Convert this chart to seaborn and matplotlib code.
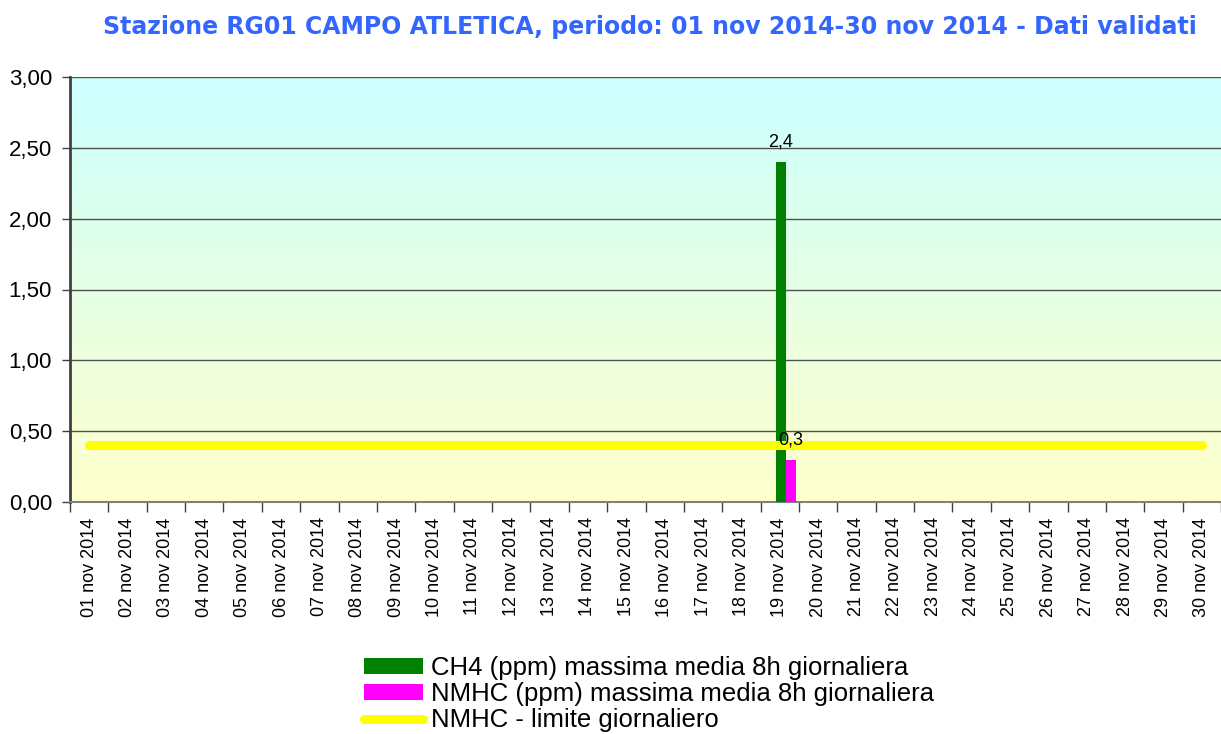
import numpy as np
import pandas as pd
import matplotlib
matplotlib.use("Agg")
import matplotlib.pyplot as plt
import seaborn as sns
from matplotlib.colors import LinearSegmentedColormap
from matplotlib.ticker import FuncFormatter, FixedLocator
from matplotlib.patches import Patch
from matplotlib.lines import Line2D

days = [f"{d:02d} nov 2014" for d in range(1, 31)]
ch4 = [np.nan] * 30
ch4[18] = 2.4
nmhc = [np.nan] * 30
nmhc[18] = 0.3
limit = [0.4] * 30

label_ch4 = "CH4 (ppm) massima media 8h giornaliera"
label_nmhc = "NMHC (ppm) massima media 8h giornaliera"
label_lim = "NMHC - limite giornaliero"
title = "Stazione RG01 CAMPO ATLETICA, periodo: 01 nov 2014-30 nov 2014 - Dati validati"

sns.set_theme(style="white")
plt.rcParams['font.family'] = ['Liberation Sans', 'DejaVu Sans']
plt.rcParams['text.color'] = 'black'
plt.rcParams['xtick.labelcolor'] = 'black'
plt.rcParams['ytick.labelcolor'] = 'black'
plt.rcParams['legend.labelcolor'] = 'black'

df = pd.DataFrame({
    "day": days * 2,
    "series": [label_ch4] * 30 + [label_nmhc] * 30,
    "value": ch4 + nmhc,
})

fig = plt.figure(figsize=(12.21, 7.34), dpi=100)
ax = fig.add_axes([70 / 1221, 1 - 502 / 734, 1 - 70 / 1221, (502 - 77) / 734])

# gradient background
cmap = LinearSegmentedColormap.from_list("bg", ["#FFFFCC", "#CCFFFF"])
grad = np.linspace(0, 1, 256).reshape(-1, 1)
ax.imshow(grad, extent=[-0.5, 29.5, 0, 3], aspect="auto", cmap=cmap,
          origin="lower", zorder=0, interpolation="bilinear")

sns.barplot(data=df, x="day", y="value", hue="series", order=days,
            palette={label_ch4: "#008000", label_nmhc: "#FF00FF"},
            width=0.52, dodge=True, saturation=1, ax=ax, zorder=3,
            legend=False, err_kws={"linewidth": 0})

# shift bars to match Excel cluster position
for p in ax.patches:
    p.set_x(p.get_x() + 0.15)
    p.set_linewidth(0)

# data labels
for p in ax.patches:
    h = p.get_height()
    if np.isfinite(h) and h > 0:
        ax.text(p.get_x() + p.get_width() / 2, h + 0.08,
                f"{h:.1f}".replace(".", ","), ha="center", va="bottom",
                fontsize=13, color="black", zorder=6)

sns.lineplot(x=np.arange(30), y=limit, ax=ax, color="#FFFF00", linewidth=6.5,
             solid_capstyle="round", zorder=4)

ax.set_xlim(-0.5, 29.5)
ax.set_ylim(0, 3)
ax.set_xlabel("")
ax.set_ylabel("")

ax.set_yticks(np.arange(0, 3.01, 0.5))
ax.yaxis.set_major_formatter(FuncFormatter(lambda v, _: f"{v:.2f}".replace(".", ",")))
ax.yaxis.grid(True, color="#505050", linewidth=1)
for gl in ax.get_ygridlines():
    gl.set_zorder(2)

ax.set_xticks(np.arange(30))
ax.set_xticklabels(days, rotation=90, fontsize=13)
ax.xaxis.set_minor_locator(FixedLocator(np.arange(-0.5, 30, 1)))
ax.tick_params(axis="x", which="major", length=0, pad=11, labelcolor="black")
ax.tick_params(axis="x", which="minor", length=7, width=1, color="#404040", bottom=True)
ax.tick_params(axis="y", which="major", length=6, width=1, color="#404040",
               left=True, pad=7, labelsize=16, labelcolor="black")

for s in ("top", "right"):
    ax.spines[s].set_visible(False)
ax.spines["left"].set_color("#404040")
ax.spines["left"].set_linewidth(2)
ax.spines["bottom"].set_color("#808080")
ax.spines["bottom"].set_linewidth(1.5)

fig.text(650 / 1221, 1 - 27 / 734, title, ha="center", va="center",
         fontsize=17, fontweight="bold", color="#3366FF", family="DejaVu Sans")

handles = [Patch(facecolor="#008000", edgecolor="none"),
           Patch(facecolor="#FF00FF", edgecolor="none"),
           Line2D([0], [0], color="#FFFF00", linewidth=6.5, solid_capstyle="round")]
fig.legend(handles, [label_ch4, label_nmhc, label_lim], loc="upper left",
           bbox_to_anchor=(364 / 1221, 1 - 656 / 734), frameon=False,
           fontsize=18.5, handlelength=2.3, handletextpad=0.3, labelspacing=0.08,
           borderpad=0, borderaxespad=0, handleheight=0.6, labelcolor="black")

fig.savefig("out.png", dpi=100)
